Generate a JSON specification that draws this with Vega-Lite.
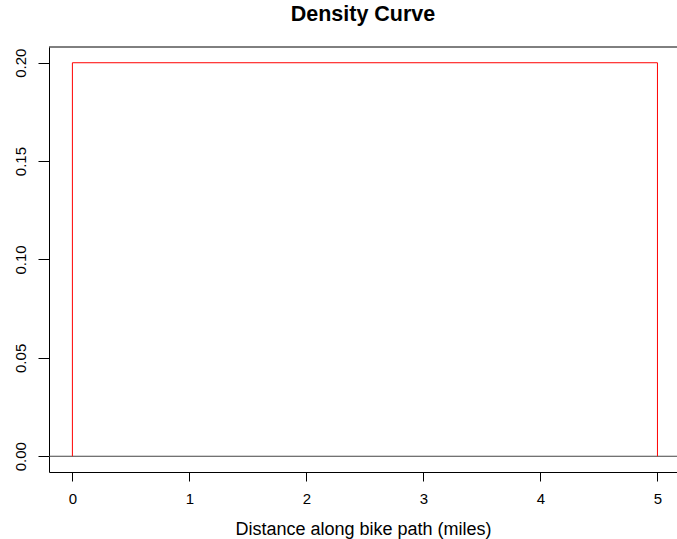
{
  "$schema": "https://vega.github.io/schema/vega-lite/v6.json",
  "width": 628,
  "height": 425,
  "autosize": {"type": "none"},
  "padding": {"left": 49, "top": 47, "right": 0, "bottom": 67},
  "background": "white",
  "title": {
    "text": "Density Curve",
    "fontSize": 21.5,
    "font": "Liberation Sans",
    "fontWeight": "bold",
    "anchor": "middle",
    "baseline": "alphabetic",
    "offset": 4,
    "color": "black"
  },
  "config": {
    "font": "Liberation Sans",
    "view": {"stroke": null},
    "axis": {
      "domainColor": "black",
      "tickColor": "black",
      "labelColor": "black",
      "titleColor": "black",
      "grid": false,
      "labelFont": "Liberation Sans",
      "titleFont": "Liberation Sans"
    }
  },
  "data": {
    "values": [
      {"x": 0, "y": 0, "order": 1},
      {"x": 0, "y": 0.2, "order": 2},
      {"x": 5, "y": 0.2, "order": 3},
      {"x": 5, "y": 0, "order": 4}
    ]
  },
  "layer": [
    {
      "data": {"values": [{"k": 1}]},
      "mark": {"type": "rule", "color": "black", "strokeWidth": 1},
      "encoding": {"y": {"datum": 0.208, "type": "quantitative"}}
    },
    {
      "data": {"values": [{"k": 1}]},
      "mark": {"type": "rule", "color": "#444444", "strokeWidth": 1},
      "encoding": {"y": {"datum": 0, "type": "quantitative"}}
    },
    {
      "mark": {"type": "line", "color": "#ff0000", "strokeWidth": 1},
      "encoding": {
        "x": {
          "field": "x",
          "type": "quantitative",
          "scale": {"domain": [-0.2, 5.167], "nice": false, "zero": false},
          "axis": {
            "values": [0, 1, 2, 3, 4, 5],
            "title": "Distance along bike path (miles)",
            "tickSize": 9,
            "labelPadding": 10,
            "labelFontSize": 15,
            "labelFlush": false,
            "titleFontSize": 18,
            "titleFontWeight": "normal",
            "titleBaseline": "alphabetic",
            "titleY": 62
          }
        },
        "y": {
          "field": "y",
          "type": "quantitative",
          "scale": {"domain": [-0.008, 0.208], "nice": false, "zero": false},
          "axis": {
            "values": [0, 0.05, 0.1, 0.15, 0.2],
            "format": ".2f",
            "title": null,
            "labelAngle": 270,
            "labelAlign": "center",
            "labelBaseline": "alphabetic",
            "tickSize": 11,
            "labelPadding": 13,
            "labelFontSize": 15
          }
        },
        "order": {"field": "order", "type": "quantitative"}
      }
    }
  ]
}
